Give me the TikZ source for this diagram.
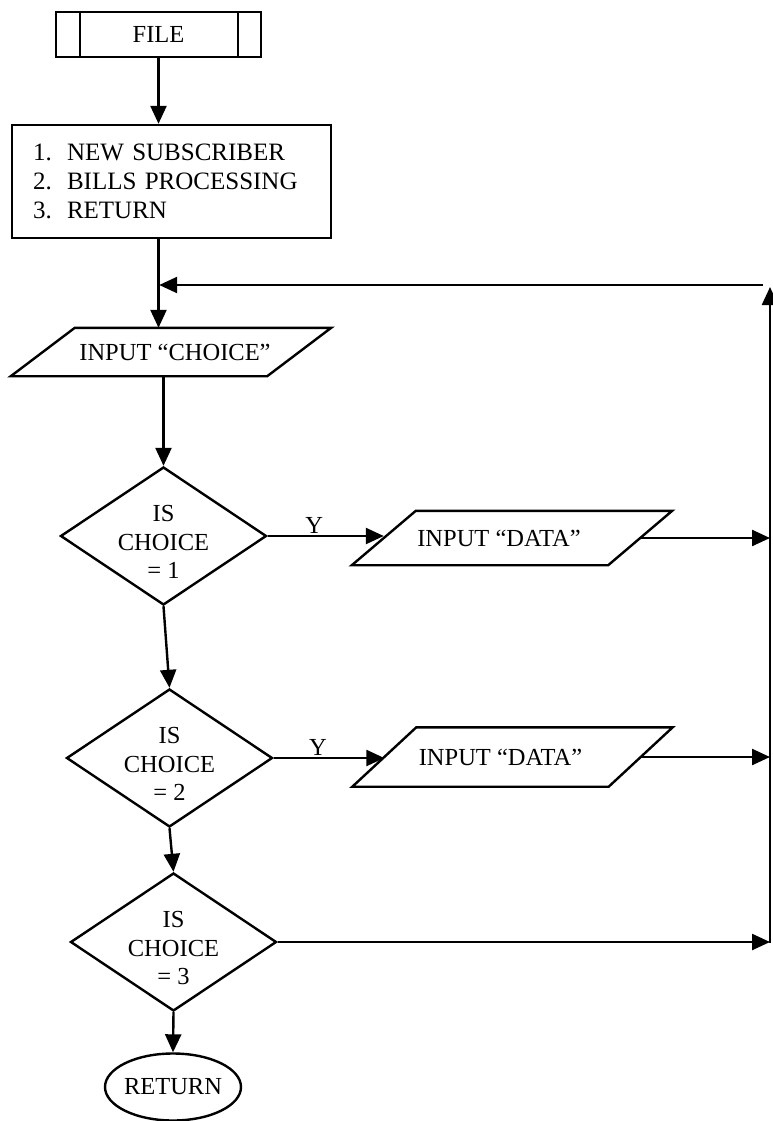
\documentclass[tikz,border=0pt]{standalone}
\usepackage{fontspec}
\setmainfont{Liberation Serif}
\usetikzlibrary{arrows.meta,shapes.geometric}
\begin{document}
\begin{tikzpicture}[x=1pt,y=-1pt,
  ln/.style={line width=2.4pt},
  flow/.style={ln,-{Triangle[length=18pt,width=16pt]}},
  txt/.style={font=\fontsize{24.5}{28.5}\selectfont},
  procbox/.style={ln,draw,rectangle,txt,minimum width=205pt,minimum height=45pt},
  menubox/.style={ln,draw,rectangle,font=\fontsize{25}{29}\selectfont,align=left,
    text width=277pt,inner xsep=21pt,minimum height=113pt},
  iobox/.style={rectangle,txt,inner sep=0pt,minimum width=256pt,minimum height=#1},
  decision/.style={ln,draw,diamond,txt,align=center,aspect=1.5,inner sep=-6pt,
    minimum width=206pt,minimum height=138pt,text height=85pt,text depth=0pt},
  terminal/.style={ln,draw,ellipse,txt,inner sep=-2pt,minimum width=136pt,minimum height=67pt},
  ylabel/.style={txt,above,inner sep=1pt,pos=0.4}
]
\useasboundingbox (0,0) rectangle (772,1121);

% nodes
\node[procbox] (file) at (158.5,34.5) {FILE};
\node[menubox] (menu) at (171.5,181.5)
  {\makebox[34pt][l]{1.}NEW SUBSCRIBER\\
   \makebox[34pt][l]{2.}BILLS PROCESSING\\
   \makebox[34pt][l]{3.}RETURN};
\node[iobox=48pt] (choice) at (171,352) {\hspace*{8pt}INPUT “CHOICE”};
\node[decision] (d1) at (163.5,536) {IS\\CHOICE\\= 1};
\node[iobox=54pt] (data1) at (512,538) {\hspace*{-26pt}INPUT “DATA”};
\node[decision] (d2) at (169.5,758) {IS\\CHOICE\\= 2};
\node[iobox=59pt] (data2) at (512.5,757) {\hspace*{-24pt}INPUT “DATA”};
\node[decision] (d3) at (173.5,942) {IS\\CHOICE\\= 3};
\node[terminal] (ret) at (173,1087) {RETURN};

\coordinate (railtop) at (770,287);
\coordinate (railbot) at (770,943);
\coordinate (loopstart) at (763,285);
\coordinate (loopin) at (159.2,285);

% predefined-process side bars
\draw[ln] ([xshift=25pt]file.north west) -- ([xshift=25pt]file.south west);
\draw[ln] ([xshift=-24pt]file.north east) -- ([xshift=-24pt]file.south east);

% input/output parallelograms
\foreach \n in {choice,data1,data2}
  \draw[ln,line join=miter]
    ([xshift=32pt]\n.north west) -- ([xshift=32pt]\n.north east) --
    ([xshift=-32pt]\n.south east) -- ([xshift=-32pt]\n.south west) -- cycle;

% main flow
\draw[flow] (file.south) -- (file.south |- menu.north);
\draw[flow] (menu.south -| file.south) -- (choice.north -| file.south);
\draw[flow] (d1.north |- choice.south) -- (d1.north);
\draw[flow] (d1.south) -- (d2.north);
\draw[flow] (d2.south) -- (d3.north);
\draw[flow] (d3.south) -- (ret.north);

% yes branches
\draw[flow] (d1.east) -- node[ylabel]{Y} (d1.east -| data1.west);
\draw[flow] (d2.east) -- node[ylabel]{Y} (d2.east -| data2.west);

% return rail
\draw[flow] (data1.east) -- (data1.east -| railtop);
\draw[flow] (data2.east) -- (data2.east -| railtop);
\draw[flow] (d3.east) -- (d3.east -| railtop);
\draw[flow] (railbot) -- (railtop);
\draw[flow] (loopstart) -- (loopin);
\end{tikzpicture}
\end{document}
